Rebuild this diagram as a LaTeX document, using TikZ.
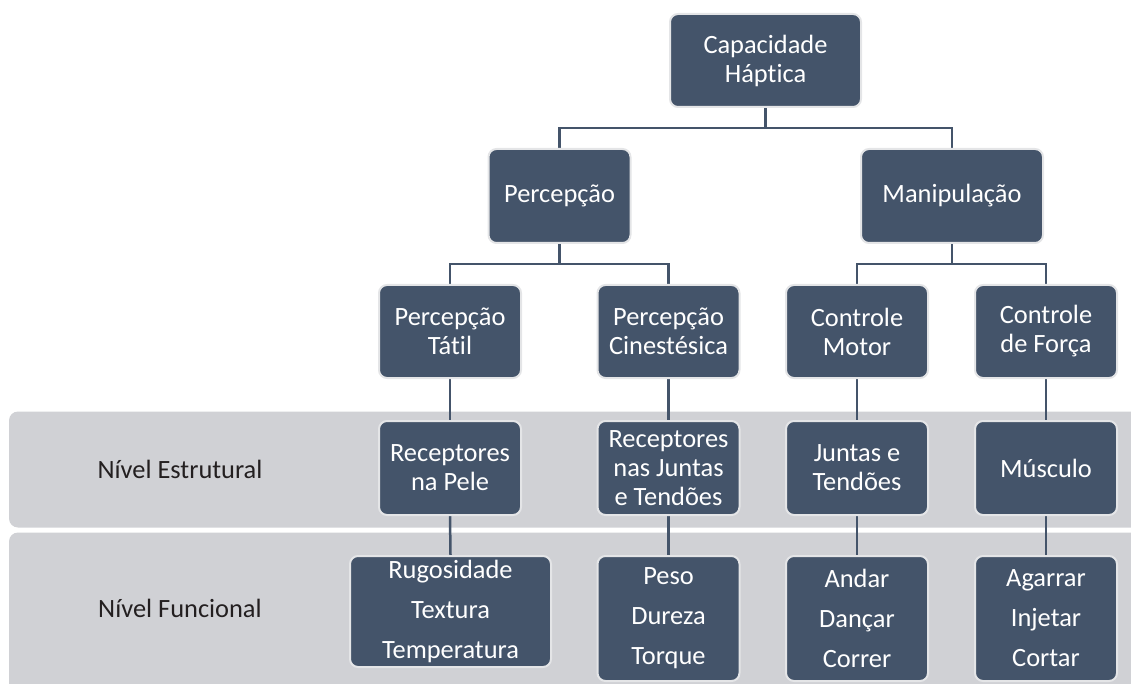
\documentclass[tikz,border=0pt]{standalone}
\usepackage{fontspec}
\setmainfont{Carlito}[Ligatures={NoCommon}]
\definecolor{boxfill}{HTML}{44546A}
\definecolor{boxborder}{HTML}{E4E5E7}
\definecolor{bandfill}{HTML}{D0D1D5}
\definecolor{labeltext}{HTML}{231F20}
\pgfdeclarelayer{background}
\pgfsetlayers{background,main}
\tikzset{
  box/.style={draw=boxborder, line width=2pt, fill=boxfill, rounded corners=8pt,
    text=white, font=\fontsize{26.4}{29}\selectfont, align=center, inner sep=0pt,
    minimum width=142pt, minimum height=93pt},
  fbox/.style={box, font=\fontsize{26.4}{40}\selectfont, minimum height=125pt},
  conn/.style={draw=boxfill, line width=2.5pt},
  band/.style={fill=bandfill, rounded corners=9pt},
  bandlabel/.style={text=labeltext, font=\fontsize{26.4}{29}\selectfont, inner sep=0pt}
}
\begin{document}
\begin{tikzpicture}[x=1pt,y=-1pt]
\useasboundingbox (0,0) rectangle (1131,684);
\clip (0,0) rectangle (1131,684);
% level 1
\node[box, minimum width=191pt] (top) at (765.5,60.5) {Capacidade\\Háptica};
% level 2
\node[box, minimum height=94pt] (perc) at (559.5,196) {Percepção};
\node[box, minimum width=182pt, minimum height=94pt] (manip) at (952,196) {Manipulação};
% level 3
\node[box] (ptat) at (450,331.5) {Percepção\\Tátil};
\node[box] (pcin) at (668.5,331.5) {Percepção\\Cinestésica};
\node[box] (cmot) at (857,331.5) {Controle\\Motor};
\node[box] (cfor) at (1046,331.5) {Controle\\de Força};
% level 4
\node[box, minimum height=94pt] (rpele) at (450,468) {Receptores\\na Pele};
\node[box, minimum height=94pt] (rjun) at (668.5,468) {Receptores\\nas Juntas\\e Tendões};
\node[box, minimum height=94pt] (jten) at (857,468) {Juntas e\\Tendões};
\node[box, minimum height=94pt] (musc) at (1046,468) {Músculo};
% level 5
\node[fbox, minimum width=201pt, minimum height=111pt] (rug) at (450.5,611.5) {Rugosidade\\Textura\\Temperatura};
\node[fbox] (peso) at (668.5,618.5) {Peso\\Dureza\\Torque};
\node[fbox] (andar) at (857,618.5) {Andar\\Dançar\\Correr};
\node[fbox] (agar) at (1046,618.5) {Agarrar\\Injetar\\Cortar};
% band labels
\node[bandlabel] (lblE) at (180,469) {Nível Estrutural};
\node[bandlabel] (lblF) at (180,608) {Nível Funcional};
\begin{pgfonlayer}{background}
  \path[band] (9,411.5) rectangle (1160,527.5);
  \path[band] (9,532.5) rectangle (1160,720);
  \draw[conn] (top.south) -- ++(0,20) -| (perc.north);
  \draw[conn] (top.south) -- ++(0,20) -| (manip.north);
  \draw[conn] (perc.south) -- ++(0,20) -| (ptat.north);
  \draw[conn] (perc.south) -- ++(0,20) -| (pcin.north);
  \draw[conn] (manip.south) -- ++(0,20) -| (cmot.north);
  \draw[conn] (manip.south) -- ++(0,20) -| (cfor.north);
  \draw[conn] (ptat.south) -- (rpele.north);
  \draw[conn] (pcin.south) -- (rjun.north);
  \draw[conn] (cmot.south) -- (jten.north);
  \draw[conn] (cfor.south) -- (musc.north);
  \draw[conn] (rpele.south) -- (rug.north);
  \draw[conn] (rjun.south) -- (peso.north);
  \draw[conn] (jten.south) -- (andar.north);
  \draw[conn] (musc.south) -- (agar.north);
\end{pgfonlayer}
\end{tikzpicture}
\end{document}
